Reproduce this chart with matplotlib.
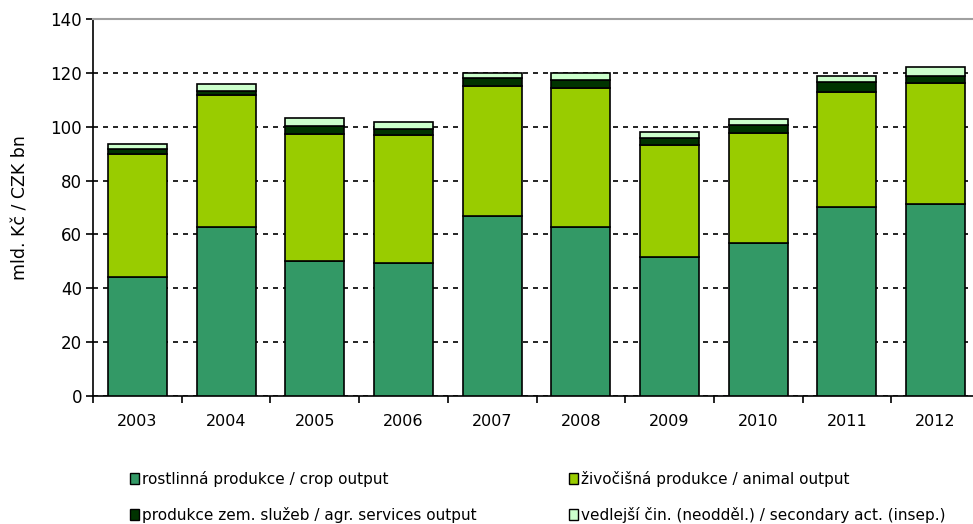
import numpy as np
import matplotlib.pyplot as plt
from matplotlib.patches import Patch

plt.rcParams['font.family'] = ['DejaVu Sans']

# data (mld. Kč)
years = ['2003', '2004', '2005', '2006', '2007', '2008', '2009', '2010', '2011', '2012']
crop_output = [44.2, 62.6, 50.1, 49.4, 67.0, 62.6, 51.5, 56.7, 70.2, 71.3]
animal_output = [45.7, 49.2, 47.2, 47.6, 48.2, 51.8, 41.6, 41.1, 42.8, 44.9]
services_output = [1.8, 1.6, 3.0, 2.2, 3.0, 3.0, 2.8, 2.8, 3.6, 2.8]
secondary_output = [1.9, 2.5, 2.9, 2.7, 1.7, 2.5, 2.1, 2.1, 2.1, 3.0]

labels = ['rostlinná produkce / crop output',
          'živočišná produkce / animal output',
          'produkce zem. služeb / agr. services output',
          'vedlejší čin. (neodděl.) / secondary act. (insep.)']
colors = ['#339966', '#99CC00', '#003300', '#CCFFCC']

fig = plt.figure(figsize=(9.73, 5.24), dpi=100)
ax = fig.add_axes([0.0956, 0.2443, 0.9116, 0.7195])

x = np.arange(len(years))
width = 0.665
series = [crop_output, animal_output, services_output, secondary_output]
bottom = np.zeros(len(years))
for vals, col in zip(series, colors):
    ax.bar(x, vals, width, bottom=bottom, color=col, edgecolor='black',
           linewidth=1.2, zorder=3)
    bottom += np.array(vals)

ax.set_xlim(-0.5, len(years) - 0.5)
ax.set_ylim(0, 140)
ax.set_yticks(np.arange(0, 141, 20))
ax.yaxis.grid(True, linestyle=(0, (3, 3)), color='black', linewidth=1.2, zorder=1)

# year labels centred, ticks on category borders
ax.set_xticks(x)
ax.set_xticklabels(years)
ax.set_xticks(np.arange(-0.5, len(years), 1), minor=True)
ax.tick_params(axis='x', which='major', length=0, pad=13, labelsize=11.5)
ax.tick_params(axis='x', which='minor', length=5, width=1.2, direction='out')
ax.tick_params(axis='y', length=5, width=1.2, direction='out', labelsize=12, pad=3)

ax.spines['top'].set_color('#a0a0a0')
ax.spines['top'].set_linewidth(1.5)
ax.spines['right'].set_visible(False)
ax.spines['left'].set_linewidth(1.2)
ax.spines['bottom'].set_linewidth(1.2)

ax.set_ylabel('mld. Kč / CZK bn', fontsize=12.5, labelpad=15)

handles = [Patch(facecolor=c, edgecolor='black', linewidth=1.0) for c in colors]
leg_kw = dict(frameon=False, fontsize=11, handlelength=0.6, handleheight=0.7,
              handletextpad=0.15, labelspacing=1.3, borderaxespad=0)
leg1 = fig.legend([handles[0], handles[2]], [labels[0], labels[2]],
                  loc='upper left', bbox_to_anchor=(124 / 973, 1 - 465 / 524), **leg_kw)
leg2 = fig.legend([handles[1], handles[3]], [labels[1], labels[3]],
                  loc='upper left', bbox_to_anchor=(563 / 973, 1 - 465 / 524), **leg_kw)

fig.savefig('out.png', dpi=100)
